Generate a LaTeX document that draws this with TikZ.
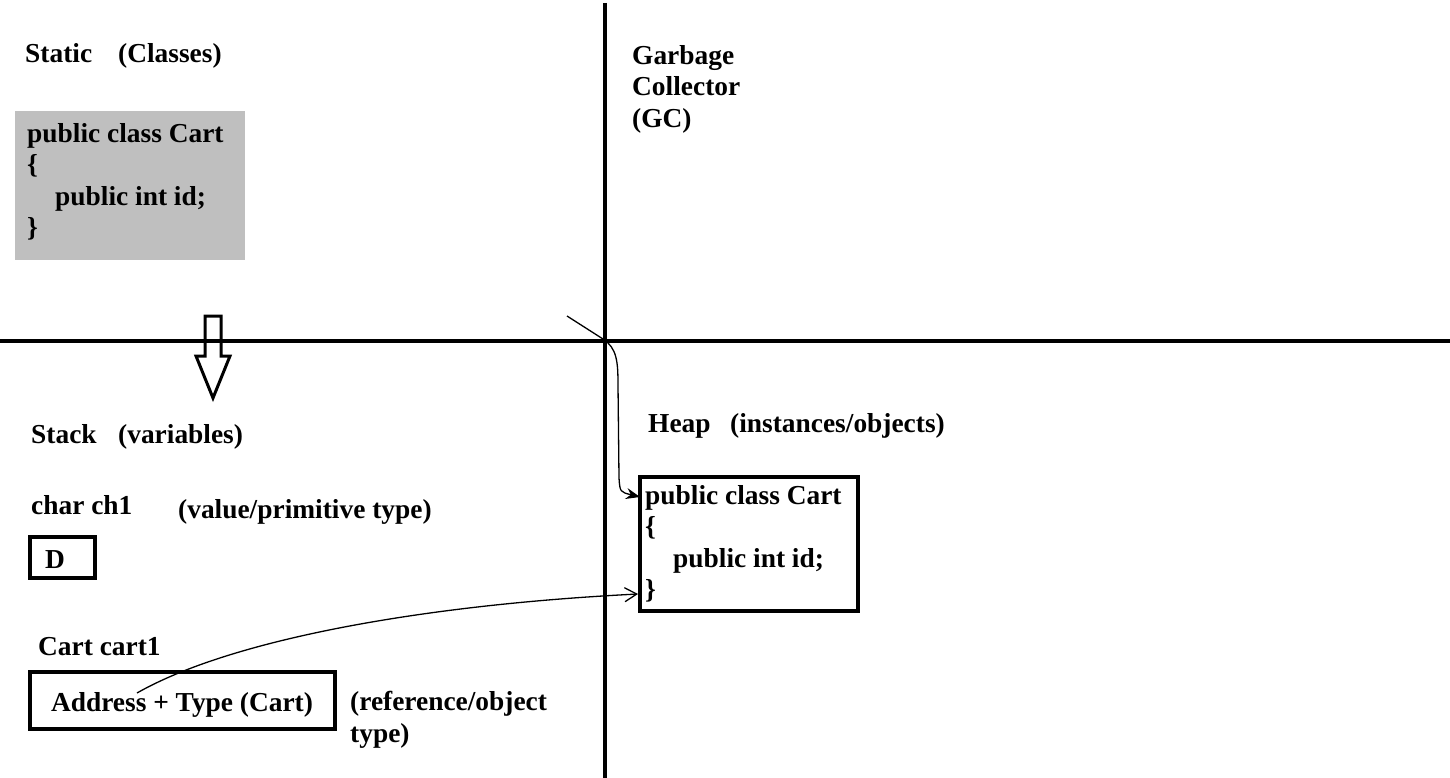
\documentclass[tikz,border=0pt]{standalone}
\usepackage{fontspec}
\setmainfont{Liberation Serif}
\usetikzlibrary{arrows.meta}
\begin{document}
\begin{tikzpicture}[x=1pt,y=-1pt,
    lbl/.style={anchor=base west,inner sep=0pt,font=\fontsize{27.4}{31.5}\selectfont\bfseries},
    code/.style={anchor=north west,inner sep=0pt,align=left,font=\fontsize{27.4}{31.5}\selectfont\bfseries},
    box/.style={draw,line width=4pt,inner sep=0pt}]
        \useasboundingbox (0,0) rectangle (1450,778);

        % quadrant lines
        \draw[line width=4.5pt] (0,341) -- (1450,341);
        \draw[line width=4pt] (605,3) -- (605,778);

        % static area
        \node[lbl] (static) at (25,63) {Static};
        \node[lbl] (classes) at (118,63) {(Classes)};
        \node[fill=black!25,minimum width=230pt,minimum height=149pt,inner sep=0pt] (classbox) at (130,185.5) {};
        \node[code] (classcode) at (27,123) {public class Cart\\\{\\\hspace*{28pt}public int id;\\\}};

        % hollow arrow down
        \draw[line width=3pt,line join=miter] (205,316) -- (221,316) -- (221,356) -- (230,356)
            -- (213,398) -- (196,356) -- (205,356) -- cycle;

        % garbage collector
        \node[code] (gc) at (632,45) {Garbage\\Collector\\(GC)};

        % stack
        \node[lbl] (stack) at (31,443) {Stack};
        \node[lbl] (vars) at (118,443) {(variables)};
        \node[lbl] (ch1) at (31,514) {char ch1};
        \node[lbl] (valtype) at (178,518) {(value/primitive type)};
        \node[box,minimum width=65pt,minimum height=41pt] (dbox) at (62.5,557.5) {};
        \node[lbl] (dval) at (45,568) {D};
        \node[lbl] (cart1) at (38,655) {Cart cart1};
        \node[box,minimum width=305pt,minimum height=57pt] (addrbox) at (182.5,700.5) {};
        \node[lbl,anchor=base] (addr) at (182,711) {Address + Type (Cart)};
        \node[code] (reftype) at (350,691) {(reference/object\\type)};

        % heap
        \node[lbl] (heap) at (648,432) {Heap};
        \node[lbl] (inst) at (730,432) {(instances/objects)};
        \node[box,minimum width=218pt,minimum height=134pt] (heapbox) at (749,544) {};
        \node[code] (heapcode) at (645,485) {public class Cart\\\{\\\hspace*{28pt}public int id;\\\}};

        % references
        \coordinate (gcfrom) at (567,316);
        \coordinate (heaptop) at (640,497);
        \coordinate (addrfrom) at (137,693);
        \coordinate (heapend) at (638,594);
        \draw[line width=1.3pt,-{Stealth[length=14pt,width=11pt]}] (gcfrom) -- (603,339) .. controls (617,348) and (618,362) .. (618,385)
            -- (619,478) .. controls (620,492) .. (heaptop);
        \draw[line width=1.3pt,-{Straight Barb[length=12pt,width=14pt]}] (addrfrom) .. controls (230,640) and (420,605) .. (heapend);
    \end{tikzpicture}
\end{document}
